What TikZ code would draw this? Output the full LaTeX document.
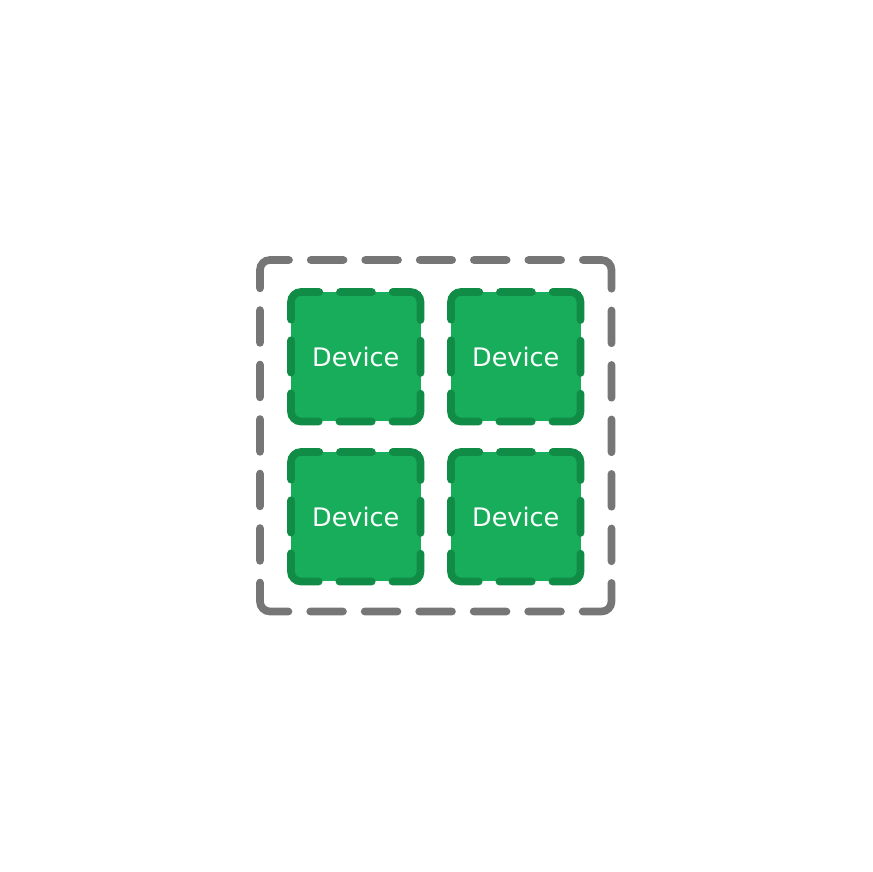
\documentclass[tikz,border=0pt]{standalone}
\usepackage{fontspec}
\newfontfamily\devfont{DejaVu Sans}
\definecolor{devgreen}{HTML}{17AD5A}
\definecolor{devedge}{HTML}{108C47}
\definecolor{groupgray}{HTML}{767676}
\begin{document}
\begin{tikzpicture}[
    x=1pt, y=1pt,
    device/.style={fill=devgreen, minimum width=129.5pt, minimum height=129.5pt, inner sep=0pt, outer sep=0pt, text=white, font=\devfont\fontsize{25.5}{30}\selectfont},
    group/.style={minimum width=351.5pt, minimum height=351.5pt, inner sep=0pt, outer sep=0pt},
    devborder/.style={draw=devedge, line width=7.7pt, line cap=round, rounded corners=10pt, dash pattern=on 32.3pt off 20.7pt on 51.5pt off 20.7pt, dash phase=16.15pt},
    groupborder/.style={draw=groupgray, line width=7.7pt, line cap=round, rounded corners=10pt, dash pattern=on 32.8pt off 21.7pt on 32.8pt off 21.7pt on 32.8pt off 21.7pt on 32.8pt off 21.7pt on 32.8pt off 21.7pt on 53pt off 21.7pt, dash phase=125.4pt}
]
    \useasboundingbox (0,0) rectangle (872,872);
    \node[group] (cluster) at (435.75,436.25) {};
    \node[device] (dev1) at (355.75,515.25) {Device};
    \node[device] (dev2) at (515.75,515.25) {Device};
    \node[device] (dev3) at (355.75,355.25) {Device};
    \node[device] (dev4) at (515.75,355.25) {Device};

    % Dashed outlines
    \draw[groupborder] (cluster.north) -- (cluster.north east) -- (cluster.south east) -- (cluster.south west) -- (cluster.north west) -- (cluster.north);
    \foreach \d in {dev1,dev2,dev3,dev4}
        \draw[devborder] (\d.north) -- (\d.north east) -- (\d.south east) -- (\d.south west) -- (\d.north west) -- (\d.north);
\end{tikzpicture}
\end{document}
